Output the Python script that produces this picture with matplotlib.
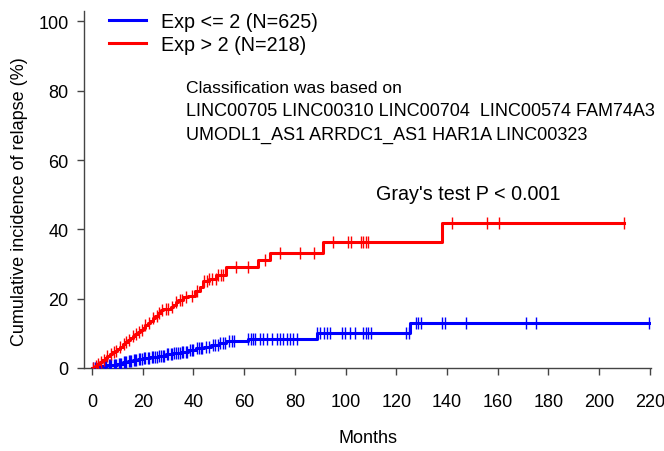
import numpy as np
import matplotlib
matplotlib.use("Agg")
import matplotlib.pyplot as plt

plt.rcParams['font.family'] = ['Liberation Sans', 'DejaVu Sans']

# step points: (months, cumulative incidence %)
red_t = [0, 1, 2, 3, 4, 5, 6, 7, 8, 9, 10, 11, 12, 13, 14, 15, 16, 17, 18, 19, 20,
         21, 22, 23, 24, 25, 26, 27, 28, 31, 32, 33, 34, 36, 38, 40.5, 42.5, 43.6,
         46, 49, 53, 65.6, 70.2, 91.2, 137.9, 209.8]
red_y = [0, 0.6, 1.2, 1.8, 2.4, 3.0, 3.4, 3.9, 4.5, 5.0, 5.5, 6.1, 6.8, 7.4, 8.0,
         8.6, 9.3, 9.9, 10.5, 11.0, 11.6, 12.3, 12.9, 13.6, 14.3, 15.0, 15.8, 16.6,
         17.0, 17.6, 18.3, 19.0, 19.6, 20.4, 20.9, 22.3, 23.5, 25.2, 25.8, 26.8,
         29.0, 31.1, 33.3, 36.4, 41.8, 41.8]
red_cens = [0.5, 1.5, 2.5, 3.5, 4.5, 6, 7.5, 8.5, 9.5, 11, 12.5, 13.5, 14.5, 16,
            17.5, 18.5, 19.5, 21, 22.5, 24, 25.5, 26.5, 27.5, 29, 30, 31.5, 33,
            34.5, 35.5, 37, 39.3, 41.3, 44.2, 45.2, 46.3, 47.2, 48.9, 49.8, 50.8,
            51.8, 56.8, 61.6, 68.2, 74.1, 82, 87.5, 95.1, 101, 102, 106, 107,
            108, 109, 141.8, 155.9, 160.6, 209.8]

blue_t = [0, 2, 4, 6, 8, 10, 12, 14, 16, 18, 20, 23, 26, 29, 32, 35, 38, 41, 44,
          47, 50, 53, 61.6, 88.6, 125.4, 219.6]
blue_y = [0, 0.3, 0.6, 0.8, 1.0, 1.2, 1.6, 2.0, 2.3, 2.6, 2.9, 3.3, 3.6, 3.9, 4.3,
          4.7, 5.2, 5.7, 6.2, 6.7, 7.3, 7.7, 8.5, 10.0, 13.0, 13.0]
blue_cens = [0.5, 1, 1.5, 2.5, 3, 3.5, 4.5, 5, 5.5, 6.5, 7, 7.5, 8.5, 9, 9.5,
             10.5, 11, 11.5, 12.5, 13, 13.5, 14.5, 15, 15.5, 16.5, 17, 17.5, 18.5,
             19, 19.5, 20.5, 21, 22, 22.5, 23.5, 24, 25, 25.5, 26.5, 27, 28, 28.5,
             29.5, 30, 31, 31.5, 32.5, 33, 34, 34.5, 35.5, 36, 37, 37.5, 38.5,
             39.5, 40, 41.5, 42, 43, 43.5, 45, 46, 47.5, 48.5, 49.5, 50.5, 51.5,
             52.5, 54, 55, 56, 61.6, 62.5, 63.4, 64.3, 66.2, 67.6, 68.9, 70.9,
             72.8, 74.1, 75.4, 76.8, 78.1, 79.4, 81, 88.6, 90, 91.5, 92.5, 93.8,
             98.4, 99.8, 101.7, 103.7, 107, 108, 109, 110, 124, 125, 127.8, 128.7,
             129.6, 137.9, 139.2, 147.7, 171.3, 175.3, 219.6]

labels = ["Exp <= 2 (N=625)", "Exp > 2 (N=218)"]
xticks = list(range(0, 221, 20))
yticks = list(range(0, 101, 20))


def value_at(t, times, vals):
    i = np.searchsorted(times, t, side="right") - 1
    return np.asarray(vals)[i]


fig = plt.figure(figsize=(6.64, 4.52), dpi=100)
ax = fig.add_axes([84 / 664, 1 - 369 / 452, (651 - 84) / 664, (369 - 12) / 452])

for t, y, cens, col, lab in [(blue_t, blue_y, blue_cens, "#0000ff", labels[0]),
                             (red_t, red_y, red_cens, "#ff0000", labels[1])]:
    ax.step(t, y, where="post", color=col, lw=2.2, label=lab, zorder=3)
    ax.plot(cens, value_at(cens, t, y), ls="none", marker="|", ms=9, mew=1.0,
            color=col, zorder=3)

ax.set_xlim(-3.2, 220.5)
ax.set_ylim(0, 103)
ax.set_xticks(xticks)
ax.set_yticks(yticks)
for s in ["top", "right"]:
    ax.spines[s].set_visible(False)
for s in ["left", "bottom"]:
    ax.spines[s].set_color("#444444")
    ax.spines[s].set_linewidth(1.0)
ax.tick_params(axis="both", length=5, width=1.0, color="#444444", labelsize=13)
ax.tick_params(axis="x", pad=13)
ax.tick_params(axis="y", pad=6)
ax.set_xlabel("Months", fontsize=13, labelpad=14)
ax.set_ylabel("Cumulative incidence of relapse (%)", fontsize=13)
ax.yaxis.set_label_coords(-0.099, 0.47)

ax.text(37.1, 81, "Classification was based on", fontsize=12.6, va="center")
ax.text(37.1, 74.4, "LINC00705 LINC00310 LINC00704  LINC00574 FAM74A3",
        fontsize=12.95, va="center")
ax.text(37.1, 67.4, "UMODL1_AS1 ARRDC1_AS1 HAR1A LINC00323",
        fontsize=12.95, va="center")
ax.text(112, 50.4, "Gray's test P < 0.001", fontsize=14.2, va="center")

ax.legend(loc="upper left", bbox_to_anchor=(109 / 664, 1 - 13 / 452),
          bbox_transform=fig.transFigure, frameon=False, fontsize=14.2,
          borderpad=0, borderaxespad=0, handlelength=1.9, handletextpad=0.75,
          labelspacing=0.22)

fig.savefig("out.png", dpi=100)
